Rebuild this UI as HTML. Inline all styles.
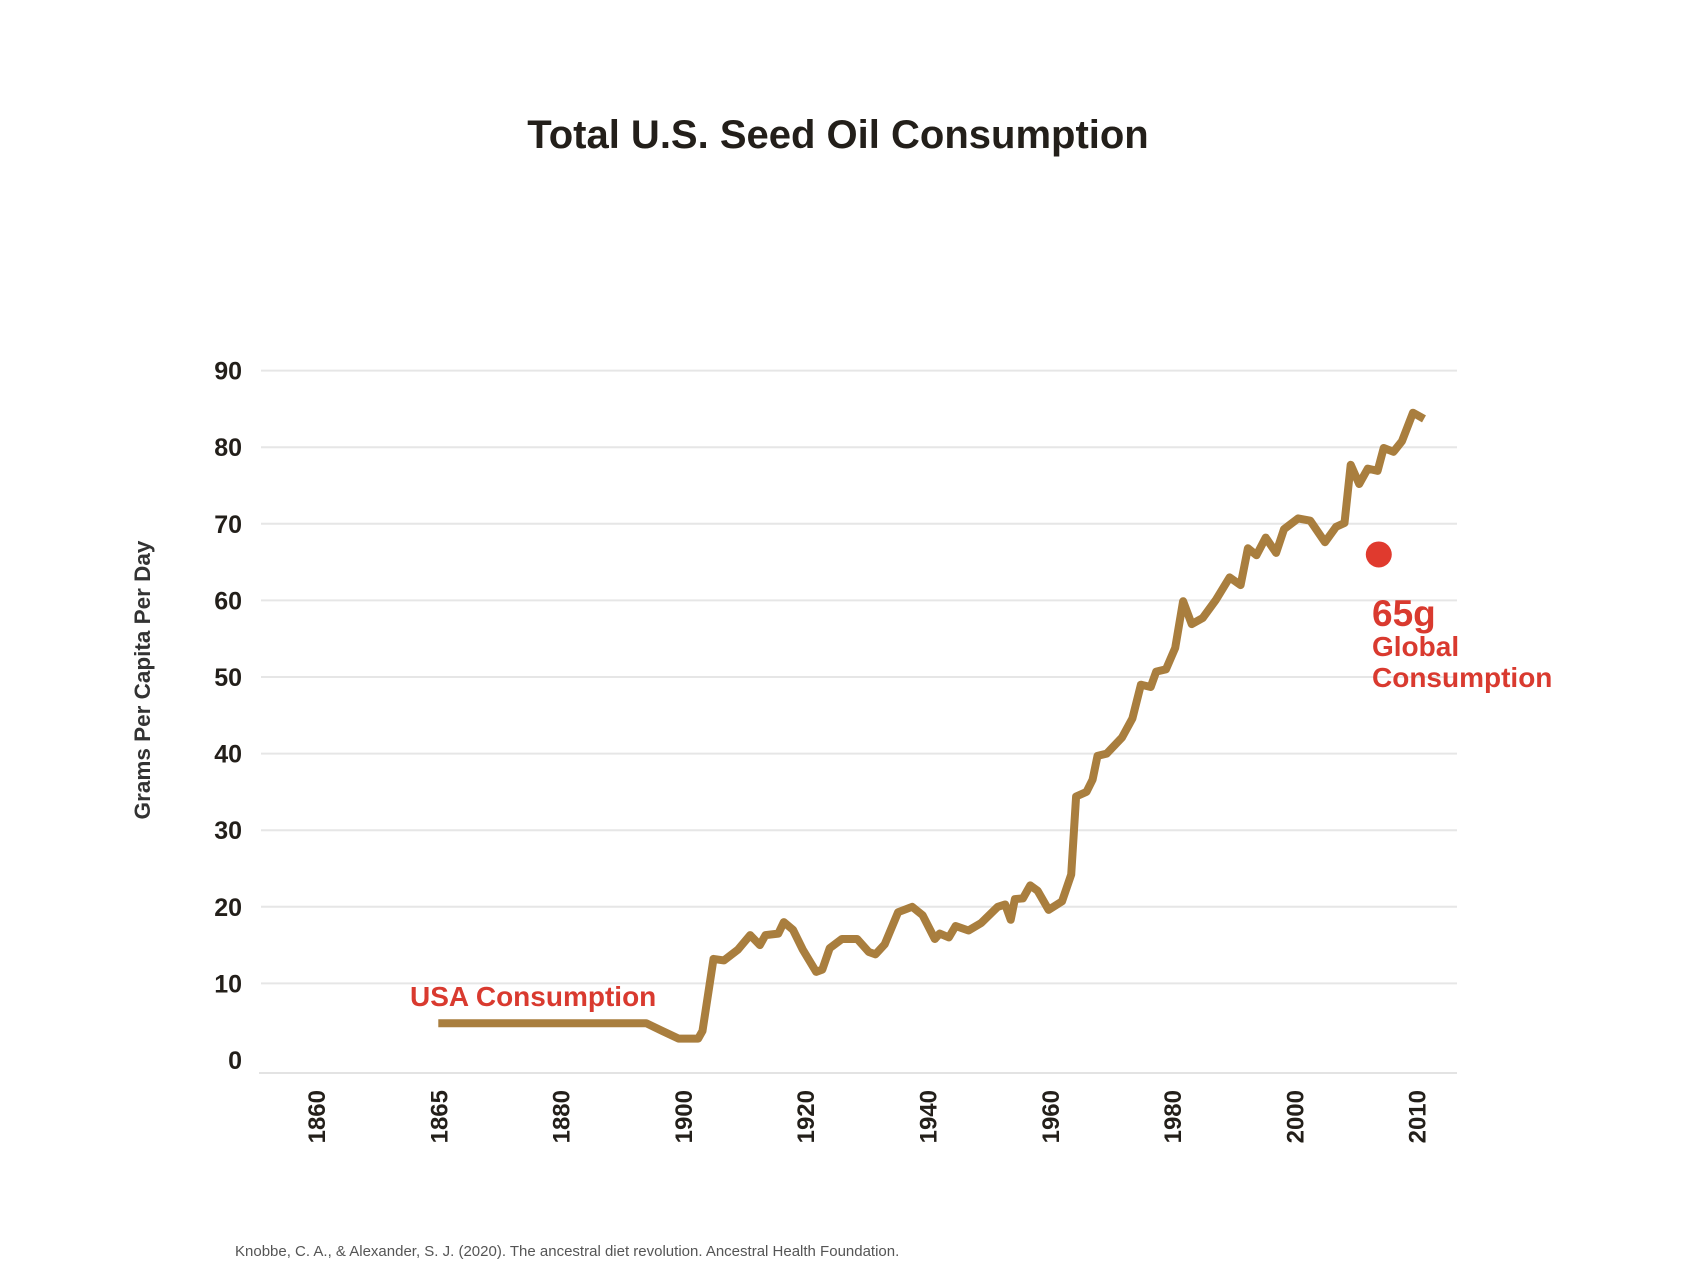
<!DOCTYPE html>
<html><head><meta charset="utf-8"><style>
html,body{margin:0;padding:0;background:#fff;}
svg{display:block;font-family:"Liberation Sans",sans-serif;}
</style></head><body>
<svg id="chart" width="1683" height="1284" viewBox="0 0 1683 1284">
<text x="838" y="148" text-anchor="middle" font-size="40" font-weight="bold" fill="#231f1a">Total U.S. Seed Oil Consumption</text>
<text transform="translate(150,680) rotate(-90)" text-anchor="middle" font-size="22.5" font-weight="bold" fill="#333">Grams Per Capita Per Day</text>
<g id="grid"></g><g id="yticks"></g><g id="xticks"></g><g id="series"></g>
<text x="410" y="1006" font-size="28" font-weight="bold" fill="#d93a2f">USA Consumption</text>
<text x="1372" y="626" font-size="37" font-weight="bold" fill="#d93a2f">65g</text>
<text x="1372" y="656" font-size="28" font-weight="bold" fill="#d93a2f">Global</text>
<text x="1372" y="687" font-size="28" font-weight="bold" fill="#d93a2f">Consumption</text>
<text x="235" y="1256" font-size="15" fill="#555">Knobbe, C. A., &amp; Alexander, S. J. (2020). The ancestral diet revolution. Ancestral Health Foundation.</text>
</svg>
<script>
const yTicks=[0,10,20,30,40,50,60,70,80,90];
const xTickYears=[1860,1865,1880,1900,1920,1940,1960,1980,2000,2010];
const years=[1865,1894,1896.6,1899.3,1902.5,1903.2,1905,1906.7,1909,1911,1912.6,1913.5,1915.6,1916.5,1918,1919.6,1921.8,1922.8,1924,1926,1928.5,1930.4,1931.5,1933,1935.2,1937.5,1939.2,1941.2,1942,1943.5,1944.6,1946.7,1948.8,1951.5,1952.7,1953.6,1954.3,1955.6,1956.8,1958,1959.8,1962,1963.5,1964.3,1966,1967,1967.8,1969.3,1971.8,1973.5,1974.9,1976.5,1977.4,1979,1980.5,1981.8,1983.2,1985,1987.2,1989.4,1991.2,1992.4,1993.8,1995.3,1997,1998.3,2000.3,2001.3,2002.5,2003.4,2004.1,2004.6,2005.3,2006,2006.8,2007.3,2008.1,2008.8,2009.7,2010.6];
const values=[4.8,4.8,3.8,2.8,2.8,3.8,13.2,13,14.4,16.3,15,16.3,16.5,18,17,14.4,11.5,11.8,14.6,15.8,15.8,14.1,13.8,15.1,19.3,20,18.9,15.8,16.5,16,17.5,16.9,17.9,20,20.3,18.3,21,21.1,22.8,22.1,19.6,20.7,24.2,34.4,35,36.6,39.7,40,42.1,44.6,49,48.7,50.7,51,53.8,59.9,56.9,57.7,60.1,63,62,66.8,65.9,68.2,66.2,69.3,70.7,70.4,67.6,69.6,70.1,77.7,75.2,77.2,76.9,79.9,79.4,80.8,84.5,83.7];
const globalYear=2006.9, globalValue=66;
const NS="http://www.w3.org/2000/svg";
const y0=1060, yStep=7.66, x0=316, xStep=122.3;
function yScale(v){return y0-v*yStep;}
function tickX(i){return x0+i*xStep;}
function xScale(yr){
  for(let i=1;i<xTickYears.length-1;i++){
    const a=xTickYears[i],b=xTickYears[i+1];
    if(yr<=b||i===xTickYears.length-2) return tickX(i)+(yr-a)/(b-a)*xStep;
  }
}
function mk(tag,attrs,parent){const e=document.createElementNS(NS,tag);for(const k in attrs)e.setAttribute(k,attrs[k]);parent.appendChild(e);return e;}
const grid=document.getElementById('grid'),yt=document.getElementById('yticks'),xt=document.getElementById('xticks'),ser=document.getElementById('series');
yTicks.forEach(v=>{
  if(v>0){const l=mk('line',{x1:261,x2:1457,y1:yScale(v),y2:yScale(v),stroke:'#e6e6e6','stroke-width':2},grid);
  
  }
  const t=mk('text',{x:242,y:yScale(v)+9,'text-anchor':'end','font-size':25,'font-weight':'bold',fill:'#231f1a'},yt);
  t.textContent=v;
  
  
});
const base=mk('line',{x1:259,x2:1457,y1:1073,y2:1073,stroke:'#e3e3e3','stroke-width':2},grid);


xTickYears.forEach((yr,i)=>{
  const t=mk('text',{transform:`translate(${tickX(i)+9},1090) rotate(-90)`,'text-anchor':'end','font-size':24,'font-weight':'bold',fill:'#231f1a'},xt);
  t.textContent=yr;
  
  
});
let d=years.map((yr,i)=>(i?'L':'M')+xScale(yr).toFixed(1)+','+yScale(values[i]).toFixed(1)).join(' ');
const p=mk('path',{d:d,fill:'none',stroke:'#a97e3e','stroke-width':8,'stroke-linejoin':'round','stroke-linecap':'butt'},ser);


const c=mk('circle',{cx:xScale(globalYear),cy:yScale(globalValue),r:13,fill:'#e03a2e'},ser);


</script>
</body></html>
